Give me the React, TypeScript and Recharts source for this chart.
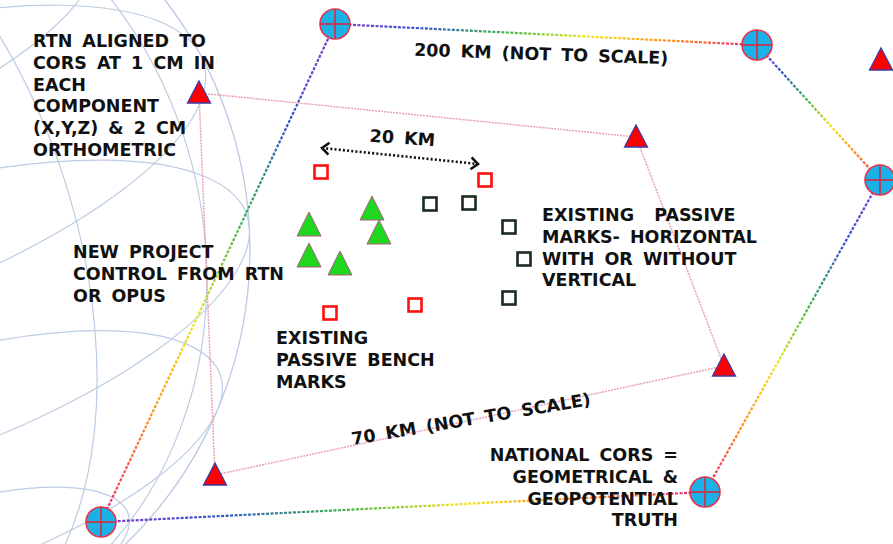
import { ScatterChart, Scatter, XAxis, YAxis } from 'recharts';

// drawing is laid out on a 893 x 544 grid (y grows downward)
const W = 893;
const H = 544;

// national CORS stations, in ring order
const corsX = [101, 335, 757, 880, 705];
const corsY = [522, 24, 45, 180, 492];

// RTN stations (red triangles); first four outline the project area
const rtnX = [199, 636, 724, 215, 881];
const rtnY = [93, 137, 366, 475, 60];

// new project control (green triangles)
const projectX = [309, 372, 379, 309, 340];
const projectY = [225, 209, 233, 256, 264];

// existing passive bench marks (red squares)
const benchX = [321, 485, 415, 330];
const benchY = [172, 180, 305, 313];

// existing passive horizontal marks (dark squares)
const passiveX = [430, 469, 509, 524, 509];
const passiveY = [204, 203, 227, 259, 298];

// 20 km scale arrow end points
const arrowX = [322, 478];
const arrowY = [148, 164];

// globe in the background (centre, meridians and parallels in degrees)
const globeX = [-160];
const globeY = [250];
const meridians = [90, 62, 35, 12];
const parallels = [-62, -38, -14, 10, 34, 58];

const labelLines = [
  ['RTN ALIGNED TO', 'CORS AT 1 CM IN', 'EACH', 'COMPONENT', '(X,Y,Z) & 2 CM', 'ORTHOMETRIC'],
  ['200 KM (NOT TO SCALE)'],
  ['20 KM'],
  ['NEW PROJECT', 'CONTROL FROM RTN', 'OR OPUS'],
  ['EXISTING  PASSIVE', 'MARKS- HORIZONTAL', 'WITH OR WITHOUT', 'VERTICAL'],
  ['EXISTING', 'PASSIVE BENCH', 'MARKS'],
  ['70 KM (NOT TO SCALE)'],
  ['NATIONAL CORS =', 'GEOMETRICAL &', 'GEOPOTENTIAL', 'TRUTH'],
];

// where each label sits (first baseline), its anchor and rotation
const labelLayout = [
  { x: 33, y: 47, anchor: 'start', angle: 0 },
  { x: 541, y: 60, anchor: 'middle', angle: 1.9 },
  { x: 402, y: 144, anchor: 'middle', angle: 4 },
  { x: 73, y: 258, anchor: 'start', angle: 0 },
  { x: 542, y: 221, anchor: 'start', angle: 0 },
  { x: 276, y: 344, anchor: 'start', angle: 0 },
  { x: 472, y: 425, anchor: 'middle', angle: -9.5 },
  { x: 678, y: 461, anchor: 'end', angle: 0 },
];

const pts = (xs: number[], ys: number[]) => xs.map((x, i) => ({ x, y: ys[i], i }));

const cors = pts(corsX, corsY);
const rtn = pts(rtnX, rtnY);
const project = pts(projectX, projectY);
const bench = pts(benchX, benchY);
const passive = pts(passiveX, passiveY);
const arrow = pts(arrowX, arrowY);
const globe = pts(globeX, globeY);
const labels = labelLayout.map((l, i) => ({ ...l, lines: labelLines[i], i }));

const ring = cors.map((p, i) => [p, cors[(i + 1) % cors.length]]);
const redAtStart = [true, false, false, false, true];
const projectBox = [...rtn.slice(0, 4), rtn[0]];

const FONT = '"DejaVu Sans", Verdana, sans-serif';
const none = () => <g />;

const CorsMark = ({ cx, cy }: any) => (
  <g>
    <circle cx={cx} cy={cy} r={15} fill="#1cb0e8" stroke="#e8344c" strokeWidth={1.6} />
    <line x1={cx - 15} y1={cy} x2={cx + 15} y2={cy} stroke="#d82a3c" strokeWidth={1.6} />
    <line x1={cx} y1={cy - 15} x2={cx} y2={cy + 15} stroke="#d82a3c" strokeWidth={1.6} />
  </g>
);

const RedTri = ({ cx, cy }: any) => (
  <polygon
    points={`${cx},${cy - 12} ${cx + 11.5},${cy + 10} ${cx - 11.5},${cy + 10}`}
    fill="#ff0000"
    stroke="#3b3ba6"
    strokeWidth={1.3}
  />
);

const GreenTri = ({ cx, cy }: any) => (
  <polygon
    points={`${cx},${cy - 13} ${cx + 12},${cy + 11} ${cx - 12},${cy + 11}`}
    fill="#1ed81e"
    stroke="#b05a86"
    strokeWidth={1}
  />
);

const square = (color: string) => ({ cx, cy }: any) => (
  <rect x={cx - 6.5} y={cy - 6.5} width={13} height={13} fill="#fff" stroke={color} strokeWidth={2.6} />
);

const ArrowEnd = ({ cx, cy, payload }: any) => {
  const a = (Math.atan2(arrowY[1] - arrowY[0], arrowX[1] - arrowX[0]) * 180) / Math.PI;
  const flip = payload.i === 0 ? 180 : 0;
  return (
    <path
      d={`M ${cx - 7} ${cy - 6} L ${cx} ${cy} L ${cx - 7} ${cy + 6}`}
      fill="none"
      stroke="#111"
      strokeWidth={2.6}
      transform={`rotate(${a + flip} ${cx} ${cy})`}
    />
  );
};

const Globe = ({ cx, cy }: any) => {
  const R = 410;
  const tilt = 20;
  const t = (tilt * Math.PI) / 180;
  const stroke = '#bccce4';
  return (
    <g>
      <defs>
        <clipPath id="globeClip">
          <circle cx={cx} cy={cy} r={R} />
        </clipPath>
      </defs>
      <g clipPath="url(#globeClip)" transform={`rotate(-18 ${cx} ${cy})`} fill="none" stroke={stroke} strokeWidth={1.2}>
        {meridians.map((m) => (
          <ellipse key={'m' + m} cx={cx} cy={cy} rx={R * Math.sin((m * Math.PI) / 180)} ry={R} />
        ))}
        {parallels.map((p) => {
          const r = (p * Math.PI) / 180;
          return (
            <ellipse
              key={'p' + p}
              cx={cx}
              cy={cy - R * Math.sin(r) * Math.cos(t)}
              rx={R * Math.cos(r)}
              ry={R * Math.cos(r) * Math.sin(t)}
            />
          );
        })}
      </g>
      <circle cx={cx} cy={cy} r={R} fill="none" stroke={stroke} strokeWidth={1.2} />
    </g>
  );
};

const LabelMark = ({ cx, cy, payload }: any) => (
  <text
    x={cx}
    y={cy}
    textAnchor={payload.anchor}
    transform={payload.angle ? `rotate(${payload.angle} ${cx} ${cy})` : undefined}
    fontFamily={FONT}
    fontWeight="bold"
    fontSize={17.5}
    wordSpacing={4}
    fill="#111"
    style={{ whiteSpace: 'pre' }}
  >
    {payload.lines.map((s: string, k: number) => (
      <tspan key={k} x={cx} dy={k === 0 ? 0 : 21.8}>
        {s}
      </tspan>
    ))}
  </text>
);

const stops = ['#e8207a', '#ff8a1c', '#f2e51a', '#3cb44b', '#3054d0', '#8a3ac8'];

export default function App() {
  return (
    <div style={{ position: 'absolute', left: 0, top: 0, background: '#fff' }}>
      <ScatterChart width={W} height={H} margin={{ top: 0, right: 0, bottom: 0, left: 0 }}>
        <defs>
          {ring.map(([a, b], i) => {
            const red = redAtStart[i] ? a : b;
            const blue = redAtStart[i] ? b : a;
            return (
              <linearGradient
                key={i}
                id={`edge${i}`}
                x1={red.x <= blue.x ? 0 : 1}
                y1={red.y <= blue.y ? 0 : 1}
                x2={blue.x < red.x ? 0 : 1}
                y2={blue.y < red.y ? 0 : 1}
              >
                {stops.map((c, k) => (
                  <stop key={k} offset={k / (stops.length - 1)} stopColor={c} />
                ))}
              </linearGradient>
            );
          })}
        </defs>
        <XAxis type="number" dataKey="x" domain={[0, W]} allowDataOverflow hide />
        <YAxis type="number" dataKey="y" domain={[0, H]} allowDataOverflow reversed hide />

        <Scatter data={globe} shape={Globe} isAnimationActive={false} />

        {ring.map((edge, i) => (
          <Scatter
            key={'ring' + i}
            data={edge}
            shape={none}
            line={{ stroke: `url(#edge${i})`, strokeWidth: 2.2, strokeDasharray: '3 1.5' }}
            lineType="joint"
            isAnimationActive={false}
          />
        ))}

        <Scatter
          data={projectBox}
          shape={none}
          line={{ stroke: '#e8a2b6', strokeWidth: 1.5, strokeDasharray: '2 1' }}
          lineType="joint"
          isAnimationActive={false}
        />

        <Scatter
          data={arrow}
          shape={ArrowEnd}
          line={{ stroke: '#111', strokeWidth: 2.6, strokeDasharray: '2 2.2' }}
          lineType="joint"
          isAnimationActive={false}
        />

        <Scatter data={project} shape={GreenTri} isAnimationActive={false} />
        <Scatter data={bench} shape={square('#ff1010')} isAnimationActive={false} />
        <Scatter data={passive} shape={square('#1b2b1e')} isAnimationActive={false} />
        <Scatter data={rtn} shape={RedTri} isAnimationActive={false} />
        <Scatter data={cors} shape={CorsMark} isAnimationActive={false} />
        <Scatter data={labels} shape={LabelMark} isAnimationActive={false} />
      </ScatterChart>
    </div>
  );
}
